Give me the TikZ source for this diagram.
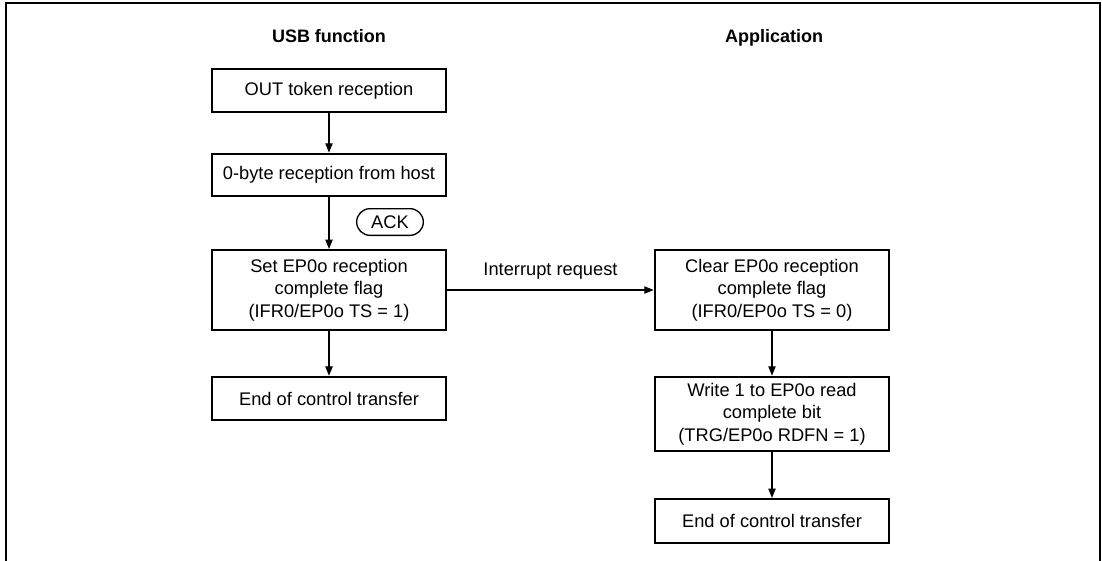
\documentclass[tikz,border=0pt]{standalone}
\usepackage{fontspec}
\setmainfont{Liberation Sans}
\usetikzlibrary{positioning,arrows.meta,shapes}

\begin{document}
\begin{tikzpicture}[x=0.75pt,y=-0.75pt,
  box/.style={draw,line width=1.6pt,minimum width=176pt,minimum height=32pt,align=center,inner sep=2pt,font=\fontsize{13.7}{16.8}\selectfont},
  head/.style={anchor=base,font=\fontsize{13.5}{16.5}\selectfont\bfseries},
  flow/.style={-{Triangle[length=7pt,width=5.5pt]},line width=0.8pt}]
\useasboundingbox (0,0) rectangle (1102,560);
\draw[line width=1.5pt] (5.5,565) -- (5.5,3) -- (1099.5,3) -- (1099.5,565);
% column titles
\node[head] (usb) at (329,43) {USB function};
\node[head] (app) at (774,43) {Application};
% USB function side
\node[box] (out) at (329,90.5) {OUT token reception};
\node[box] (zero) at (329,175) {0-byte reception from host};
\node[draw,rounded rectangle,line width=1pt,minimum width=52pt,minimum height=20pt,inner sep=1pt,font=\fontsize{13.7}{16.8}\selectfont] (ack) at (390,222) {ACK};
\node[box,minimum height=60pt] (setflag) at (329,290) {Set EP0o reception\\complete flag\\(IFR0/EP0o TS = 1)};
\node[box,minimum height=32.5pt] (endusb) at (329,398.5) {End of control transfer};
% application side
\node[box,minimum height=60pt] (clrflag) at (772,290) {Clear EP0o reception\\complete flag\\(IFR0/EP0o TS = 0)};
\node[box,minimum height=56pt] (rdfn) at (772,414) {Write 1 to EP0o read\\complete bit\\(TRG/EP0o RDFN = 1)};
\node[box,minimum height=33pt] (endapp) at (772,521) {End of control transfer};
% connectors
\draw[flow] (out) -- (zero);
\draw[flow] (zero) -- (setflag);
\draw[flow] (setflag) -- (endusb);
\draw[flow] (setflag.east) -- node[above,yshift=4pt,font=\fontsize{13.7}{16.8}\selectfont]{Interrupt request} (clrflag.west);
\draw[flow] (clrflag) -- (rdfn);
\draw[flow] (rdfn) -- (endapp);
\end{tikzpicture}
\end{document}
